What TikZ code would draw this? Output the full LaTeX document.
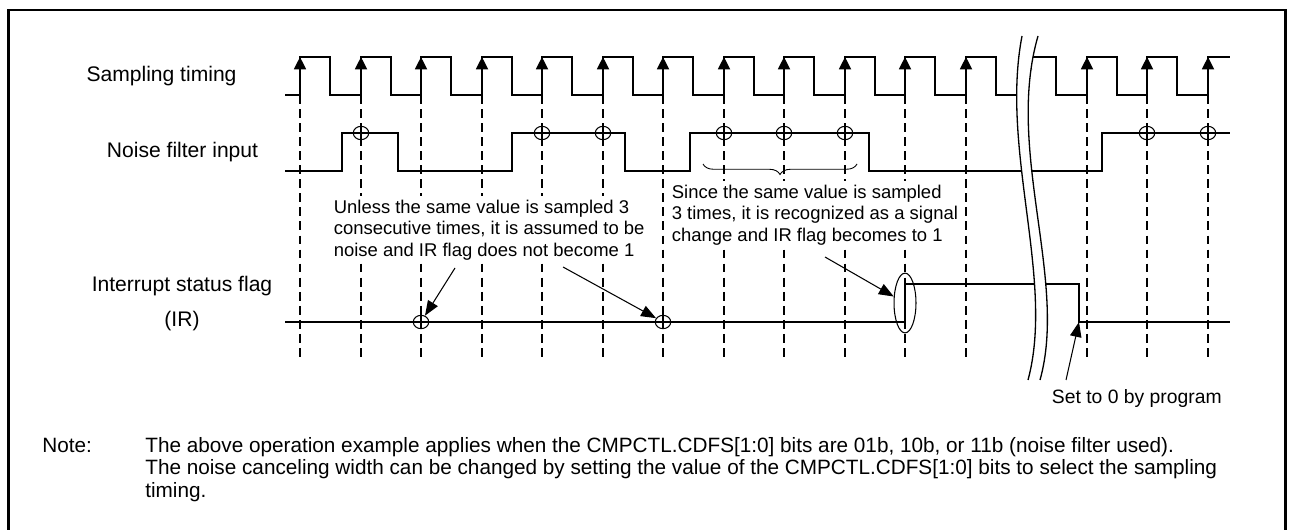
\documentclass[tikz,border=0pt]{standalone}
\usepackage{fontspec}
\setmainfont{Liberation Sans}
\usetikzlibrary{arrows.meta,decorations.pathreplacing,shapes.geometric}

\tikzset{
  wave/.style={line width=1.1pt},
  guide/.style={line width=1.15pt,dash pattern=on 5pt off 3pt},
  clkedge/.style={line width=1.1pt,-{Triangle[length=7pt,width=6.8pt]}},
  pointer/.style={line width=0.6pt,-{Triangle[length=8.5pt,width=6.5pt]}},
  hit/.style={draw,ellipse,line width=0.6pt,minimum width=8.8pt,minimum height=7.6pt,inner sep=0pt,
    path picture={\draw[line width=0.6pt] (path picture bounding box.north) -- (path picture bounding box.south);}},
  signame/.style={font=\fontsize{12}{14}\selectfont},
  remark/.style={font=\fontsize{10.5}{12.2}\selectfont,align=left,fill=white,inner sep=2pt},
  notetext/.style={font=\fontsize{11.8}{12.8}\selectfont,align=left,inner sep=0pt}
}

\begin{document}
\begin{tikzpicture}[x=0.02cm,y=-0.02cm]
  \useasboundingbox (0,0) rectangle (1291,530);
  \draw[line width=1.7pt] (8.5,10) rectangle (1285,545);

  % signal names
  \node[signame] (clk) at (161.5,76.5) {Sampling timing};
  \node[signame] (nfin) at (182.5,152) {Noise filter input};
  \node[signame] (irname) at (182,286) {Interrupt status flag};
  \node[signame] (irtag) at (182,321) {(IR)};

  % sampling points
  \foreach \k in {0,...,11,13,14,15}
    \draw[guide] ({round(300+60.5*\k)},95) -- ({round(300+60.5*\k)},360);

  % clock
  \draw[wave] (285,95) \foreach \k in {0,...,14} { -| ({round(300+60.5*\k)},57) -| ({round(330+60.5*\k)},95) }
    -| (1208,57) -- (1230,57);
  \foreach \k in {0,...,15}
    \draw[clkedge] ({round(300+60.5*\k)},95) -- ({round(300+60.5*\k)},57);

  % noise filter input
  \draw[wave] (285,171) -| (342,133) -| (398,171) -| (512,133) -| (625,171) -| (690,133)
    -| (869,171) -| (1102,133) -- (1230,133);

  % IR flag
  \coordinate (irfall) at (1079,322);
  \draw[wave] (285,322) -| (905,284) -| (irfall) -- (1230,322);

  % remarks
  \node[remark,anchor=north west] (nonoise) at (330,196)
    {Unless the same value is sampled 3\\consecutive times, it is assumed to be\\noise and IR flag does not become 1};
  \node[remark,anchor=north west] (accepted) at (668,181)
    {Since the same value is sampled\\3 times, it is recognized as a signal\\change and IR flag becomes to 1};

  % time break
  \fill[white] (1022,36) .. controls (1000,150) and (1055,280) .. (1028,380)
    -- (1040,380) .. controls (1068,280) and (1005,150) .. (1038,36) -- cycle;
  \draw[line width=0.75pt] (1022,36) .. controls (1000,150) and (1055,280) .. (1028,380);
  \draw[line width=0.75pt] (1038,36) .. controls (1005,150) and (1068,280) .. (1040,380);

  % sample marks
  \foreach \k in {1,4,5,7,8,9,14,15}
    \node[hit] (in\k) at ({round(300+60.5*\k)},133) {};
  \node[hit] (ir2) at (421,322) {};
  \node[hit] (ir6) at (663,322) {};
  \node[draw,ellipse,line width=0.6pt,minimum width=12.5pt,minimum height=34pt,inner sep=0pt] (irrise) at (905,303) {};

  \draw[decorate,decoration={brace,amplitude=6pt,mirror},line width=0.5pt] (703,164) -- (857,164);

  \coordinate (tail1) at (455,268);
  \coordinate (tail2) at (563,267);
  \coordinate (tail3) at (825,257);
  \coordinate (tail4) at (1066,380);
  \draw[pointer] (tail1) -- (ir2);
  \draw[pointer] (tail2) -- (ir6);
  \draw[pointer] (tail3) -- (irrise);
  \draw[pointer] (tail4) -- (irfall);

  % note
  \node[notetext,font=\fontsize{11}{12.5}\selectfont,anchor=east] (setzero) at (1222,399) {Set to 0 by program};
  \node[notetext,anchor=west] (notehead) at (42,445) {Note:};
  \node[notetext,anchor=north west] (notebody) at (145,437)
    {The above operation example applies when the CMPCTL.CDFS[1:0] bits are 01b, 10b, or 11b (noise filter used).\\
     The noise canceling width can be changed by setting the value of the CMPCTL.CDFS[1:0] bits to select the sampling\\
     timing.};
\end{tikzpicture}
\end{document}
